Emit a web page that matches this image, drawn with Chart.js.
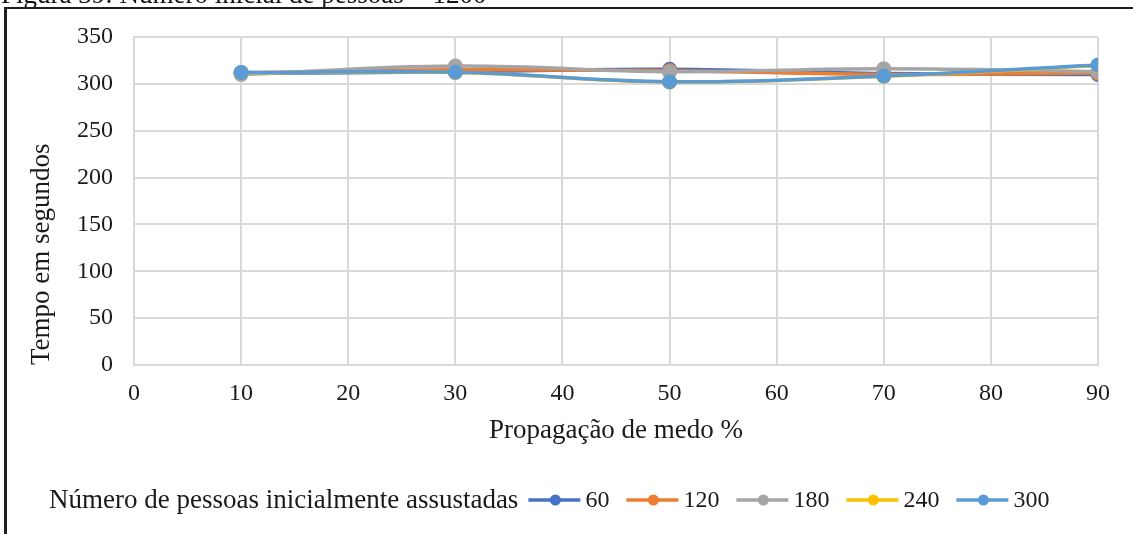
<!DOCTYPE html>
<html>
<head>
<meta charset="utf-8">
<script src="https://cdn.jsdelivr.net/npm/chart.js@4.4.1/dist/chart.umd.min.js"></script>
<style>
  html, body { margin: 0; padding: 0; background: #fff; overflow: hidden; }
  #wrap { position: relative; width: 1133px; height: 534px; overflow: hidden; }
  #c { position: absolute; left: 0; top: 0; }
  .cap { position: absolute; left: 1px; top: -19px; font: 27px "Liberation Serif", "Times New Roman", serif; line-height: 27px; color: #111; white-space: nowrap; z-index: 2; }
  .ln { position: absolute; background: #1e1e1e; z-index: 3; }
</style>
</head>
<body>
<div id="wrap">
  <canvas id="c" width="1133" height="534"></canvas>
  <div class="cap">Figura 39: Número inicial de pessoas = 1200</div>
  <div class="ln" style="left:4px; top:7px; width:1129px; height:2px;"></div>
  <div class="ln" style="left:4px; top:7px; width:2.5px; height:527px;"></div>
  <div class="ln" style="left:324px; top:0px; width:1px; height:8px;"></div>
</div>
<script>
// ---- data ----
const propagation = [10, 30, 50, 70, 90];
const seriesNames = ['60', '120', '180', '240', '300'];
const s60  = [311, 313, 315.5, 311, 310];
const s120 = [312, 315, 314, 310, 311.5];
const s180 = [310, 319, 313, 316, 313];
const s240 = [311.8, 312.2, 302.1, 308.2, 319.5];
const s300 = [312, 312.4, 302.3, 308.4, 320];
const xTicksMin = 0, xTicksMax = 90, xStep = 10;
const yTicksMin = 0, yTicksMax = 350, yStep = 50;
const legendTitle = 'Número de pessoas inicialmente assustadas';
const xTitle = 'Propagação de medo %';
const yTitle = 'Tempo em segundos';

const colors = ['#4472C4', '#ED7D31', '#A5A5A5', '#FFC000', '#5B9BD5'];
const allSeries = [s60, s120, s180, s240, s300];
const SERIF = '"Liberation Serif", "Times New Roman", serif';
const TXT = '#1a1a1a';

const datasets = allSeries.map((s, i) => ({
  label: seriesNames[i],
  data: propagation.map((x, j) => ({x: x, y: s[j]})),
  borderColor: colors[i],
  backgroundColor: colors[i],
  pointBackgroundColor: colors[i],
  pointBorderWidth: 0,
  pointRadius: 7.5,
  borderWidth: 3.5,
  tension: 0.4,
  fill: false,
  order: allSeries.length - i
}));

const customLegend = {
  id: 'customLegend',
  afterDraw(chart) {
    const ctx = chart.ctx;
    ctx.save();
    const cy = 500;
    ctx.textBaseline = 'middle';
    ctx.fillStyle = TXT;
    ctx.font = '27px ' + SERIF;
    let x = 49;
    ctx.fillText(legendTitle, x, cy + 1);
    x += ctx.measureText(legendTitle).width + 10;
    ctx.font = '24px ' + SERIF;
    for (let i = 0; i < seriesNames.length; i++) {
      ctx.strokeStyle = colors[i];
      ctx.lineWidth = 3.5;
      ctx.beginPath();
      ctx.moveTo(x, cy);
      ctx.lineTo(x + 52, cy);
      ctx.stroke();
      ctx.fillStyle = colors[i];
      ctx.beginPath();
      ctx.arc(x + 27, cy, 5.5, 0, Math.PI * 2);
      ctx.fill();
      x += 57;
      ctx.fillStyle = TXT;
      ctx.fillText(seriesNames[i], x, cy + 1);
      x += ctx.measureText(seriesNames[i]).width + 17;
    }
    ctx.restore();
  }
};

const whiteBg = {
  id: 'whiteBg',
  beforeDraw(chart) {
    const ctx = chart.ctx;
    ctx.save();
    ctx.fillStyle = '#fff';
    ctx.fillRect(0, 0, chart.width, chart.height);
    ctx.restore();
  }
};

new Chart(document.getElementById('c'), {
  type: 'line',
  data: { datasets: datasets },
  options: {
    responsive: false,
    animation: false,
    layout: { padding: { left: 0, top: 37, right: 35, bottom: 86.8 } },
    plugins: { legend: { display: false }, tooltip: { enabled: false } },
    scales: {
      x: {
        type: 'linear',
        min: xTicksMin, max: xTicksMax,
        afterFit(scale) { scale.height = 82.2; },
        ticks: { stepSize: xStep, color: TXT, font: { family: SERIF, size: 24 }, padding: 14, maxRotation: 0, autoSkip: false },
        grid: { color: '#d9d9d9', lineWidth: 2, drawTicks: false },
        border: { color: '#d9d9d9', width: 2 },
        title: { display: true, text: xTitle, color: TXT, font: { family: SERIF, size: 27 }, padding: { top: 0, bottom: 0 } }
      },
      y: {
        min: yTicksMin, max: yTicksMax,
        afterFit(scale) { scale.width = 134; },
        ticks: { stepSize: yStep, color: TXT, font: { family: SERIF, size: 24 }, padding: 21 },
        grid: { color: '#d9d9d9', lineWidth: 2, drawTicks: false },
        border: { color: '#d9d9d9', width: 2 },
        title: { display: true, text: yTitle, align: 'start', color: TXT, font: { family: SERIF, size: 27 }, padding: { top: 25.8, bottom: 0 } }
      }
    }
  },
  plugins: [whiteBg, customLegend]
});
</script>
</body>
</html>
